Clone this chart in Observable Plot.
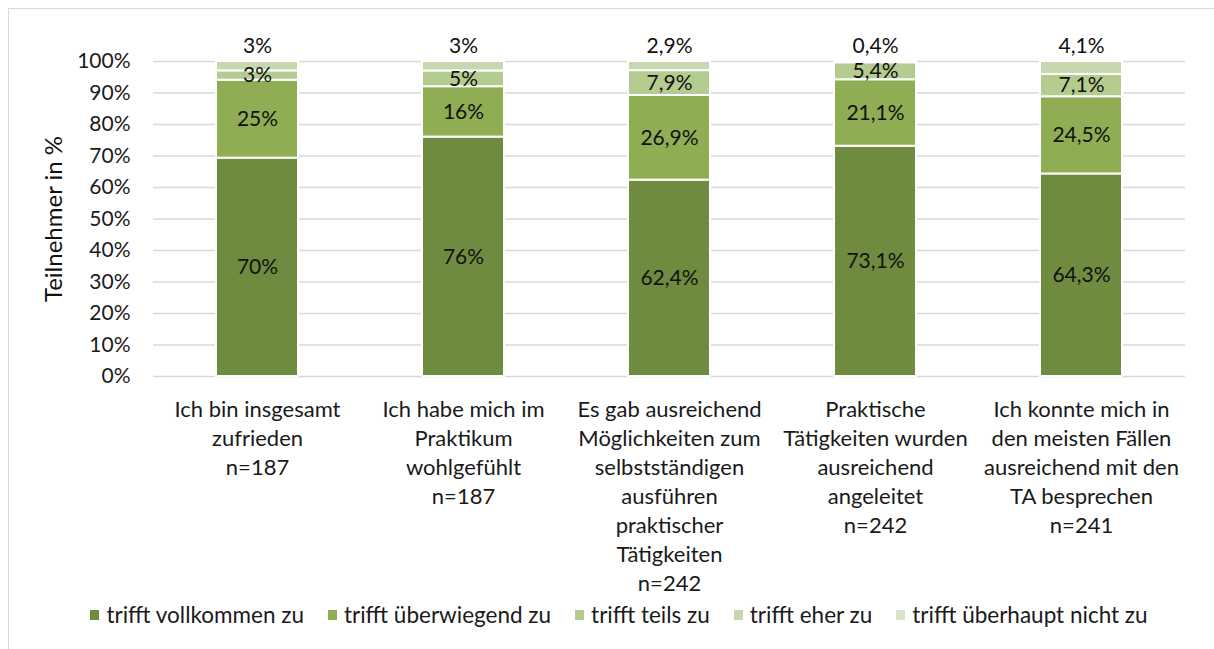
<!DOCTYPE html>
<html><head><meta charset="utf-8">
<script src="https://cdn.jsdelivr.net/npm/d3@7"></script>
<script src="https://cdn.jsdelivr.net/npm/@observablehq/plot@0.6"></script>
<style>
html,body{margin:0;padding:0;background:#fff;overflow:hidden;}
#wrap{position:relative;width:1214px;height:649px;font-family:Lato,sans-serif;color:#1a1a1a;}
#frame{position:absolute;left:8px;top:8px;width:1230px;height:680px;border:1px solid #d9d9d9;box-sizing:border-box;}
#chart{position:absolute;left:0;top:0;}
#legend{position:absolute;left:12px;top:601px;width:1214px;display:flex;justify-content:center;font-size:22.5px;line-height:28px;}
.item{display:flex;align-items:center;margin:0 12px;}
.sw{width:9px;height:10px;margin-right:7px;}
</style>
</head><body>
<div id="wrap"><div id="frame"></div><div id="chart"></div><div id="legend"></div></div>
<script>
const categories = ["zufrieden","wohlgefühlt","Möglichkeiten","angeleitet","besprechen"];
const categoryLabels = [
  "Ich bin insgesamt\nzufrieden\nn=187",
  "Ich habe mich im\nPraktikum\nwohlgefühlt\nn=187",
  "Es gab ausreichend\nMöglichkeiten zum\nselbstständigen\nausführen\npraktischer\nTätigkeiten\nn=242",
  "Praktische\nTätigkeiten wurden\nausreichend\nangeleitet\nn=242",
  "Ich konnte mich in\nden meisten Fällen\nausreichend mit den\nTA besprechen\nn=241"
];
const series = ["trifft vollkommen zu","trifft überwiegend zu","trifft teils zu","trifft eher zu","trifft überhaupt nicht zu"];
const colors = ["#6f8b3f","#8fad52","#b4cc8f","#c7d8ae","#d8e4c8"];
const vollkommen = [70, 76, 62.4, 73.1, 64.3];
const ueberwiegend = [25, 16, 26.9, 21.1, 24.5];
const teils = [3, 5, 7.9, 5.4, 7.1];
const eher = [3, 3, 2.9, 0.4, 4.1];
const ueberhaupt = [0, 0, 0, 0, 0];
const yTicks = [0,10,20,30,40,50,60,70,80,90,100];

const seriesValues = [vollkommen, ueberwiegend, teils, eher, ueberhaupt];
const rows = [];
series.forEach((s, si) => categories.forEach((c, ci) => rows.push({cat: c, series: s, si, value: seriesValues[si][ci]})));
const fmt = v => String(v).replace(".", ",") + "%";

const chart = Plot.plot({
  width: 1214, height: 600,
  marginLeft: 153, marginRight: 29, marginTop: 61, marginBottom: 224,
  style: {fontFamily: "Lato, sans-serif", fontSize: "21px", color: "#1a1a1a", background: "transparent"},
  x: {domain: categories, paddingInner: 0.6, paddingOuter: 0.3, label: null},
  y: {domain: [0, 1], label: null},
  color: {domain: series, range: colors},
  marks: [
    Plot.gridY(yTicks.map(v => v / 100), {stroke: "#d9d9d9", strokeOpacity: 1, strokeWidth: 1.5}),
    Plot.barY(rows, Plot.stackY({offset: "normalize", x: "cat", y: "value", z: "series", fill: "series", stroke: "white", strokeWidth: 2, filter: d => d.value > 0})),
    Plot.text(rows, Plot.stackY({offset: "normalize", x: "cat", y: "value", z: "series", text: d => d.si < 3 ? fmt(d.value) : null, fill: "#111", fontSize: 21})),
    Plot.text(rows, Plot.stackY2({offset: "normalize", x: "cat", y: "value", z: "series", text: d => d.si === 3 ? fmt(d.value) : null, fill: "#111", fontSize: 21, dy: -15})),
    Plot.axisY(yTicks.map(v => v / 100), {tickSize: 0, tickPadding: 23, tickFormat: v => Math.round(v * 100) + "%", fontSize: 21, label: null}),
    Plot.axisX({tickSize: 0, tickPadding: 20, tickFormat: c => categoryLabels[categories.indexOf(c)], lineHeight: 1.32, fontSize: 22, label: null}),
    Plot.text(["Teilnehmer in %"], {frameAnchor: "left", textAnchor: "middle", rotate: -90, dx: -99, fontSize: 24, fill: "#111"})
  ]
});
document.getElementById("chart").appendChild(chart);

const legend = document.getElementById("legend");
series.forEach((s, i) => {
  const it = document.createElement("div"); it.className = "item";
  const sw = document.createElement("span"); sw.className = "sw"; sw.style.background = colors[i];
  const t = document.createElement("span"); t.textContent = s;
  it.appendChild(sw); it.appendChild(t); legend.appendChild(it);
});
</script>
</body></html>
